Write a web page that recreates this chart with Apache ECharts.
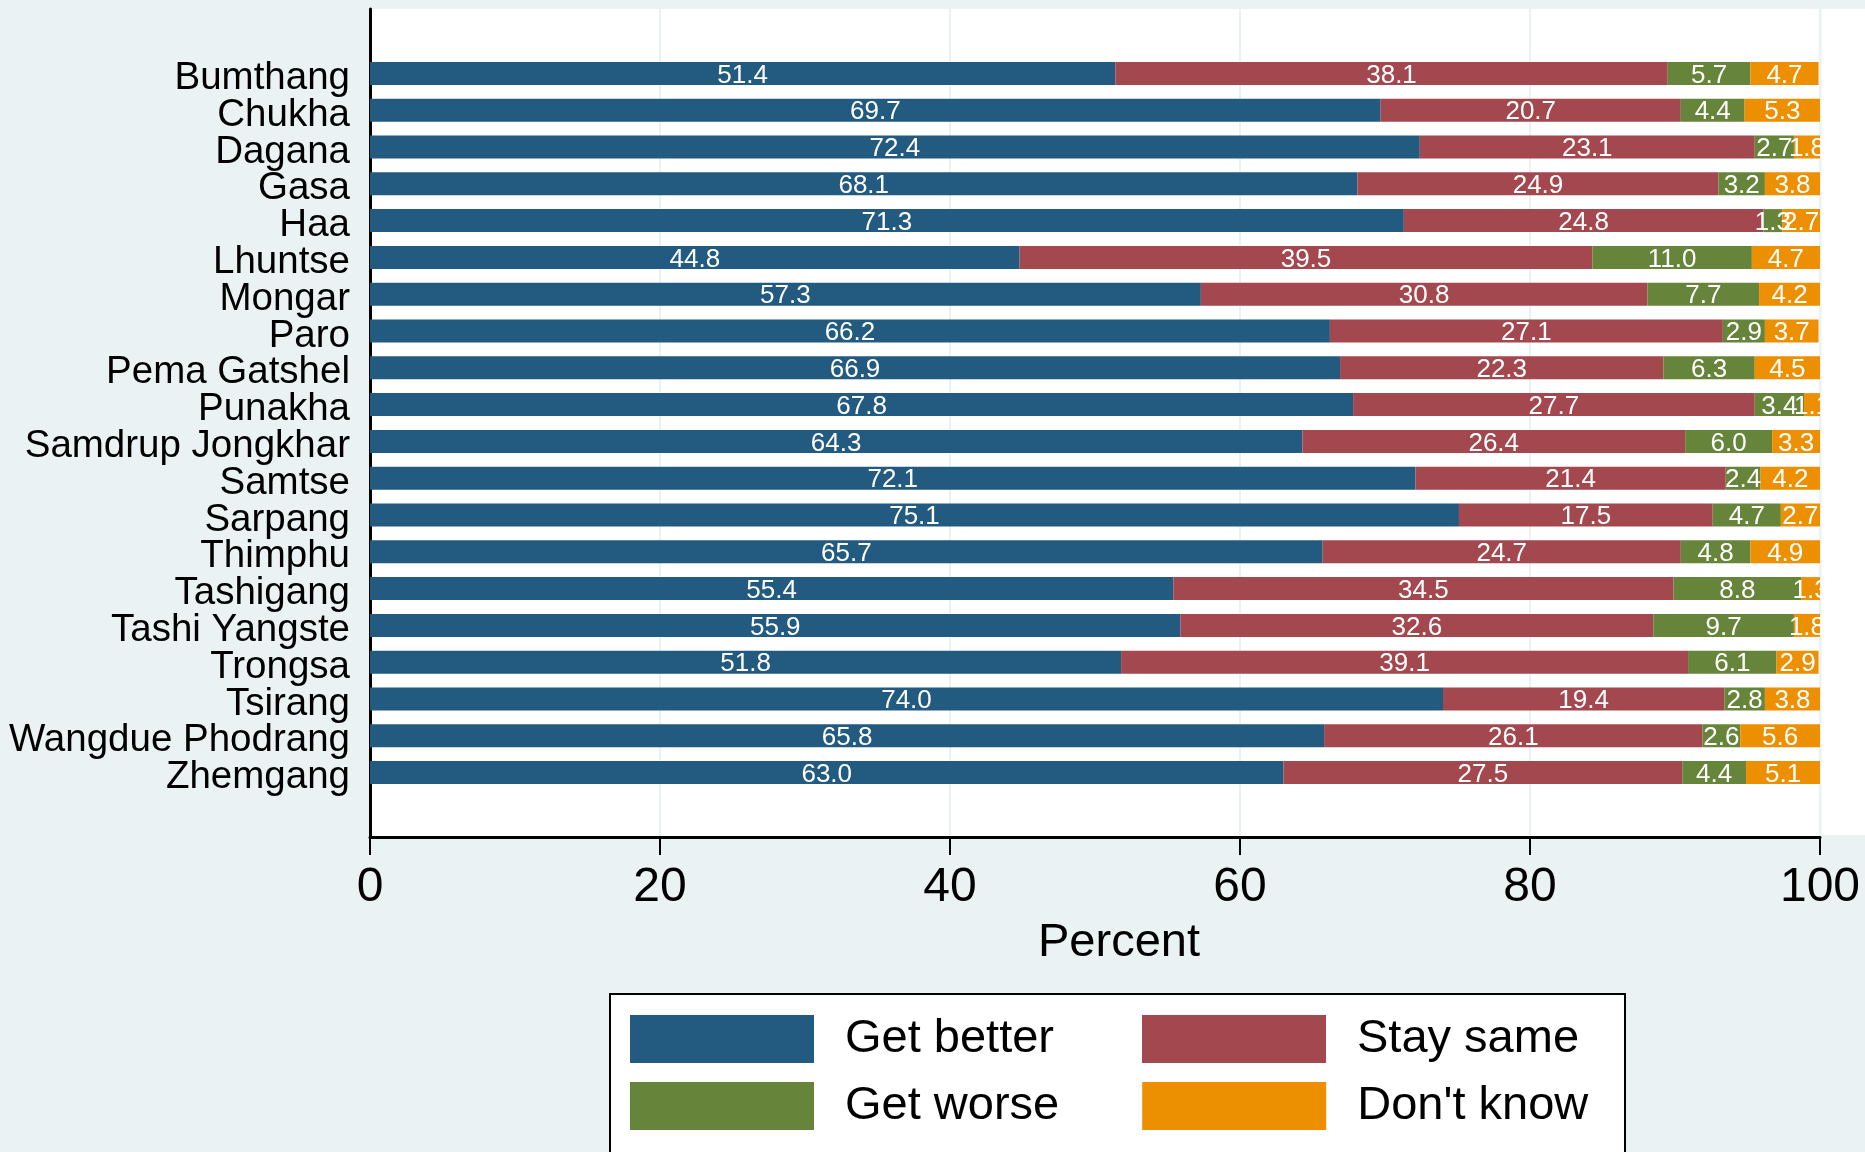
<!DOCTYPE html>
<html><head><meta charset="utf-8">
<script src="https://cdn.jsdelivr.net/npm/echarts@6/dist/echarts.min.js"></script>
<style>html,body{margin:0;padding:0;background:#EAF2F3}#c{width:1865px;height:1152px}</style>
</head><body><div id="c"></div>
<script>
const categories = ["Bumthang","Chukha","Dagana","Gasa","Haa","Lhuntse","Mongar","Paro","Pema Gatshel","Punakha","Samdrup Jongkhar","Samtse","Sarpang","Thimphu","Tashigang","Tashi Yangste","Trongsa","Tsirang","Wangdue Phodrang","Zhemgang"];
const getBetter = [51.4,69.7,72.4,68.1,71.3,44.8,57.3,66.2,66.9,67.8,64.3,72.1,75.1,65.7,55.4,55.9,51.8,74.0,65.8,63.0];
const staySame  = [38.1,20.7,23.1,24.9,24.8,39.5,30.8,27.1,22.3,27.7,26.4,21.4,17.5,24.7,34.5,32.6,39.1,19.4,26.1,27.5];
const getWorse  = [5.7,4.4,2.7,3.2,1.3,11.0,7.7,2.9,6.3,3.4,6.0,2.4,4.7,4.8,8.8,9.7,6.1,2.8,2.6,4.4];
const dontKnow  = [4.7,5.3,1.8,3.8,2.7,4.7,4.2,3.7,4.5,1.1,3.3,4.2,2.7,4.9,1.3,1.8,2.9,3.8,5.6,5.1];
const seriesNames = ["Get better","Stay same","Get worse","Don't know"];
const legendRow1 = ["Get better","Stay same"];
const legendRow2 = ["Get worse","Don't know"];
const xMin = 0, xMax = 100, xInterval = 20;
const axisTitle = "Percent";

const FONT = '"Liberation Sans", Arial, Helvetica, sans-serif';
const colors = ['#225A80','#A3484E','#66843A','#EC8F00'];
const seriesData = [getBetter, staySame, getWorse, dontKnow];

const legendBase = {
  selectedMode: false, left: 630, padding: 0,
  itemWidth: 184, itemHeight: 48, icon: 'rect',
  textStyle: {fontSize: 47, color: '#000', fontFamily: FONT, padding: [10,0,0,26]}
};

const chart = echarts.init(document.getElementById('c'), null, {renderer:'canvas'});
chart.setOption({
  backgroundColor: '#EAF2F3',
  animation: false,
  textStyle: {fontFamily: FONT},
  grid: [
    {left: 370, top: 9, width: 1450, height: 828, show: true, backgroundColor: '#ffffff', borderWidth: 0},
    {left: 370, top: 55, width: 1450, height: 736}
  ],
  xAxis: [
    {gridIndex: 0, type: 'value', min: xMin, max: xMax, interval: xInterval,
     name: axisTitle, nameLocation: 'middle', nameGap: 83,
     nameTextStyle: {fontSize: 47, color: '#000', fontFamily: FONT, padding: [0,0,0,48]},
     axisLine: {show: true, onZero: false, lineStyle: {color: '#000', width: 3}},
     axisTick: {show: true, inside: false, length: 18, lineStyle: {color: '#000', width: 2}},
     axisLabel: {fontSize: 48, color: '#000', margin: 27, fontFamily: FONT},
     splitLine: {show: true, lineStyle: {color: '#EAF2F3', width: 2}}},
    {gridIndex: 1, type: 'value', min: xMin, max: xMax, show: false, splitLine: {show: false}}
  ],
  yAxis: [
    {gridIndex: 0, type: 'value', min: 0, max: 1,
     axisLine: {show: true, lineStyle: {color: '#000', width: 3}},
     axisTick: {show: false}, axisLabel: {show: false}, splitLine: {show: false}},
    {gridIndex: 1, type: 'category', data: categories, inverse: true,
     axisLine: {show: false}, axisTick: {show: false}, splitLine: {show: false},
     axisLabel: {interval: 0, fontSize: 38.5, color: '#000', margin: 20, fontFamily: FONT,
                 verticalAlign: 'top', lineHeight: 10}}
  ],
  legend: [
    Object.assign({}, legendBase, {data: legendRow1, top: 1015, itemGap: 88}),
    Object.assign({}, legendBase, {data: legendRow2, top: 1082, itemGap: 83})
  ],
  graphic: [
    {type: 'rect', z: 100, shape: {x: 1821.5, y: 9, width: 44, height: 826}, style: {fill: '#ffffff'}},
    {type: 'rect', z: 1, shape: {x: 610, y: 994, width: 1015, height: 200}, style: {fill: '#ffffff', stroke: '#000', lineWidth: 2}}
  ],
  series: seriesNames.map((n, i) => ({
    name: n, type: 'bar', stack: 'total', xAxisIndex: 1, yAxisIndex: 1,
    barWidth: 23, data: seriesData[i],
    itemStyle: {color: colors[i], borderWidth: 0},
    label: {show: true, position: 'inside', color: '#fff', fontSize: 26, fontFamily: FONT,
            offset: [0, 2], formatter: p => Number(p.value).toFixed(1)},
    emphasis: {disabled: true}
  }))
});
</script></body></html>
